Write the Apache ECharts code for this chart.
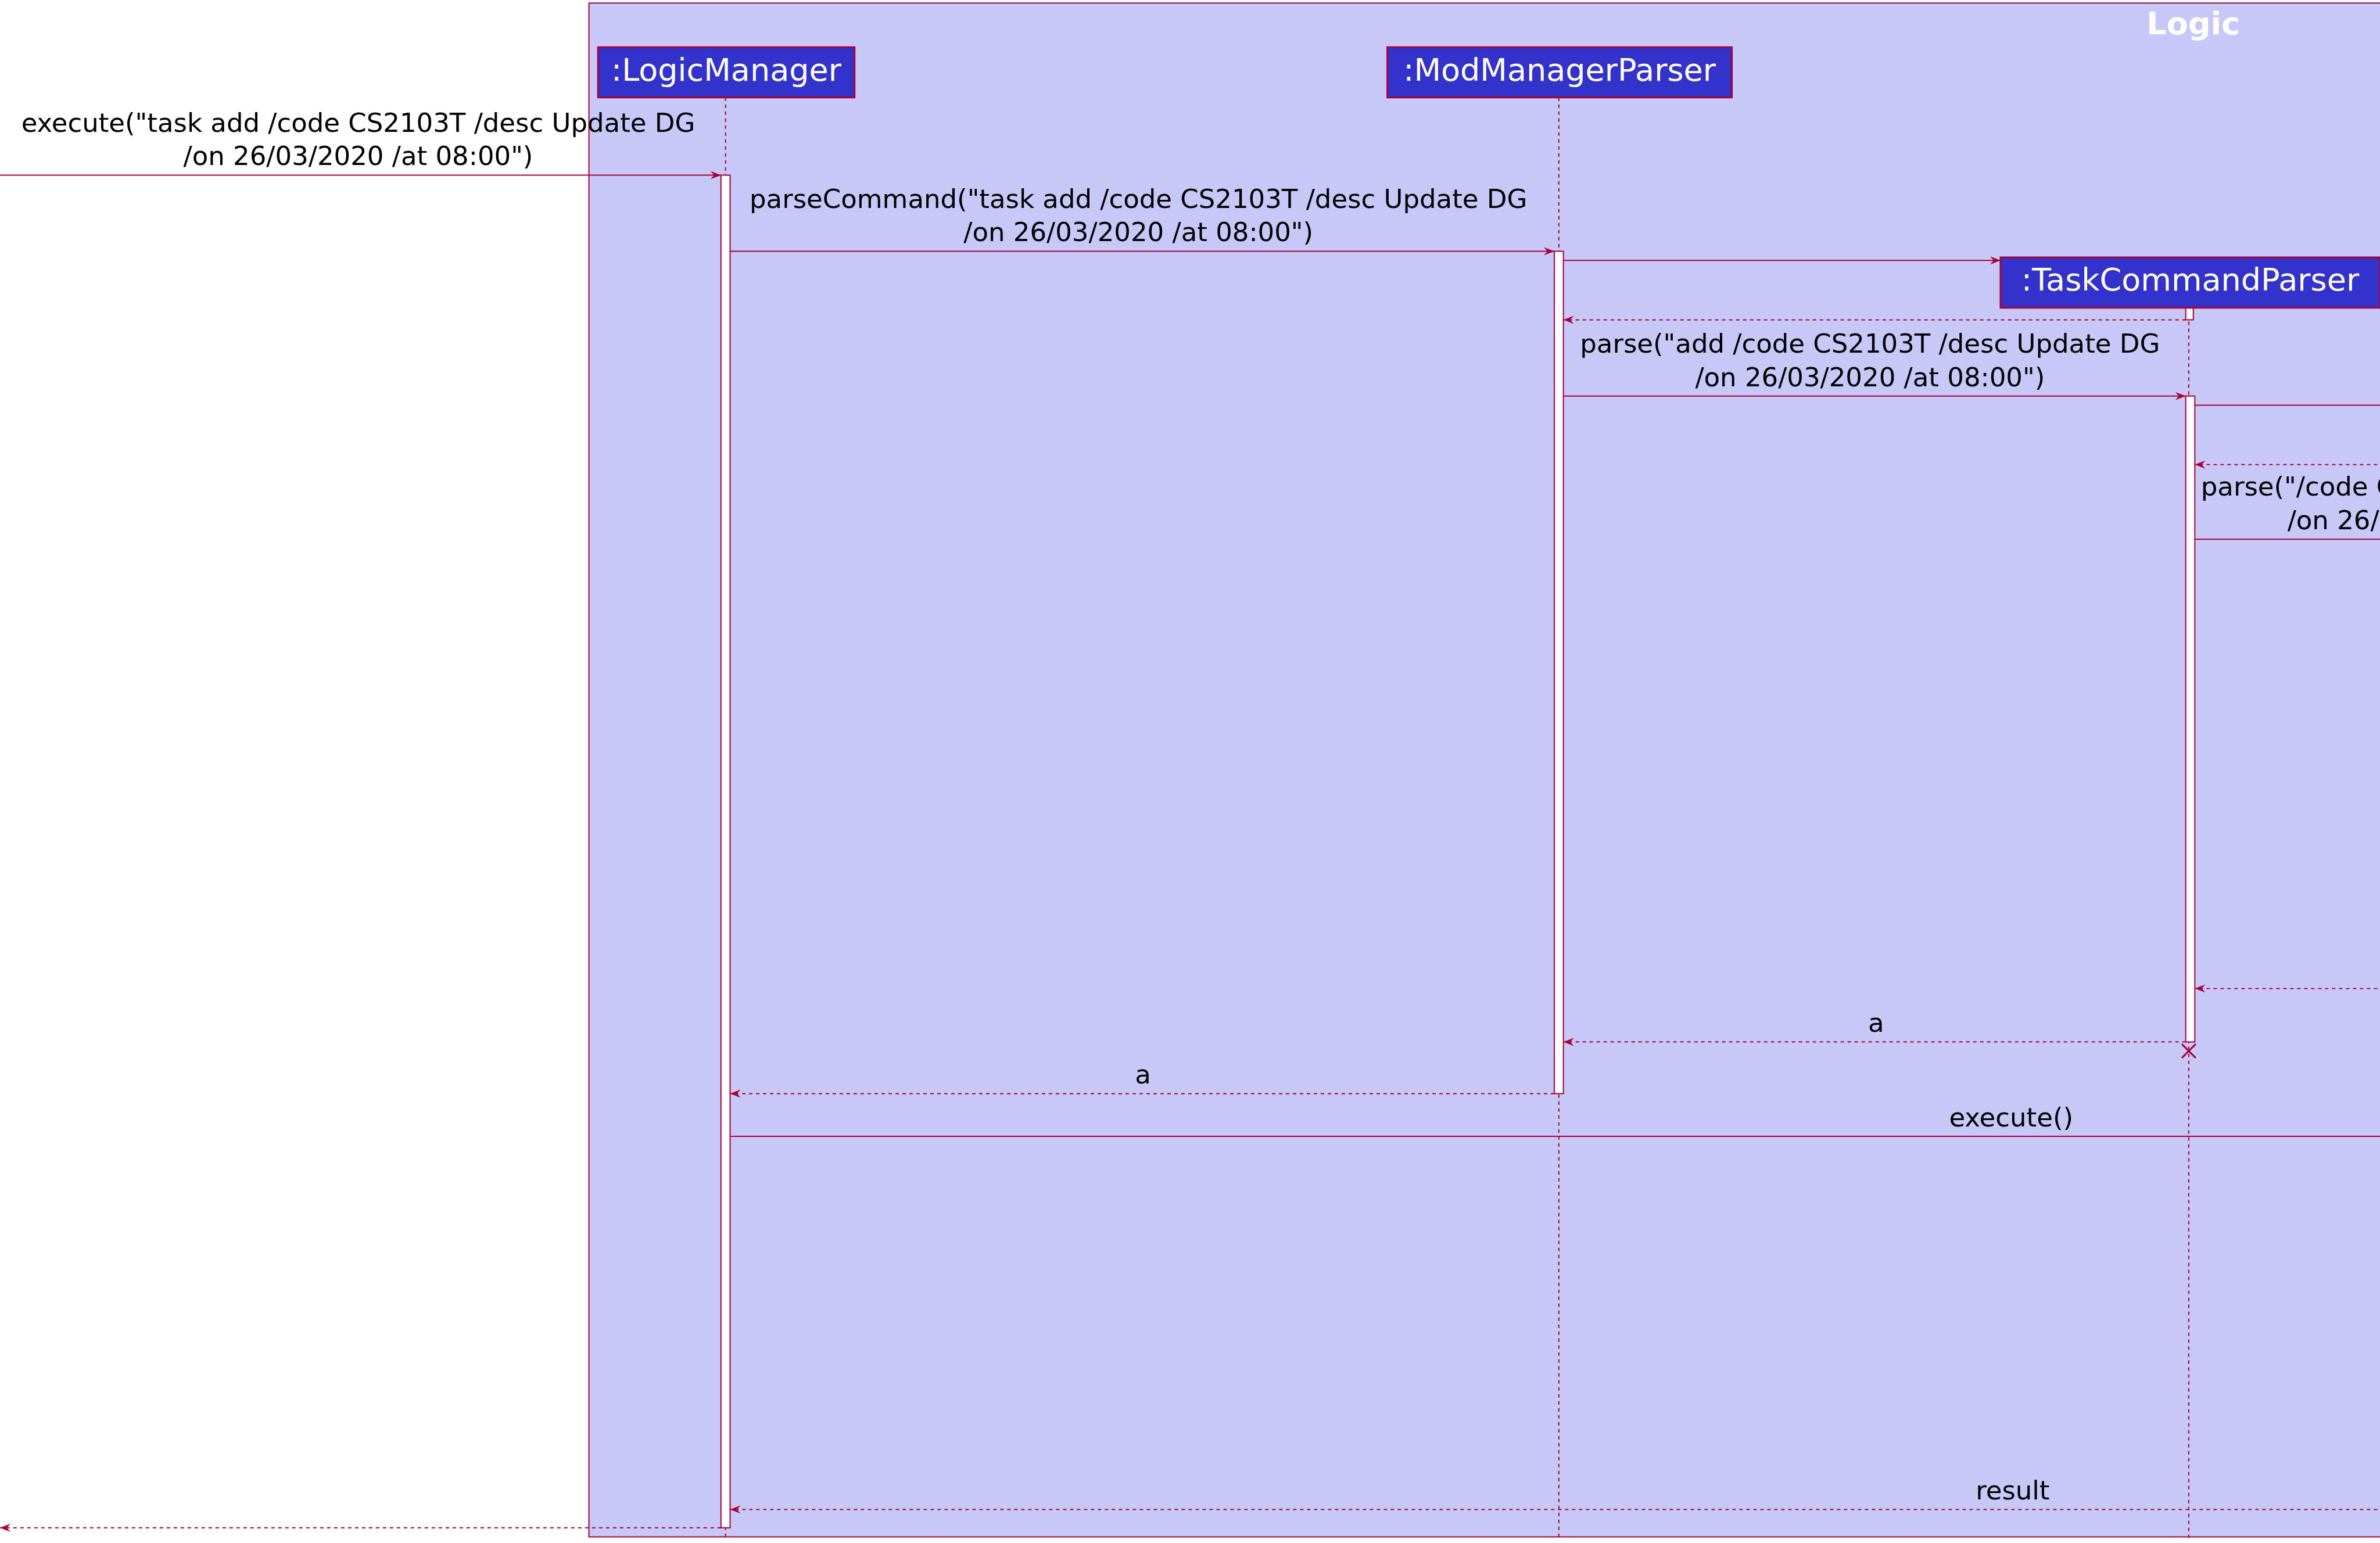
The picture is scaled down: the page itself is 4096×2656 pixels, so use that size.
<!DOCTYPE html>
<html>
<head>
<meta charset="utf-8">
<script src="https://cdn.jsdelivr.net/npm/echarts@6/dist/echarts.min.js"></script>
<style>html,body{margin:0;padding:0;background:#fff}#chart{width:4096px;height:2656px}</style>
</head>
<body>
<div id="chart"></div>
<script>
// diagram units: reference is 1568 x 1013
var participantNames = [':LogicManager', ':ModManagerParser', ':TaskCommandParser'];
var participantBoxes = [[394, 563, 31, 64], [914, 1141, 31, 64], [1318, 1568, 169, 202]];
var lifelineX = [478, 1027, 1442];
var lifelineTop = [64, 64, 202];
var activations = [[475, 481, 115, 1003], [1024, 1030, 165, 718], [1440, 1445, 202, 210], [1440, 1446, 260, 684]];
// [fromX, toX, y, dashed, line1, line2, labelX, align]
var messages = [
  [0, 475, 115, 0, 'execute("task add /code CS2103T /desc Update DG', '/on 26/03/2020 /at 08:00")', 236, 'center'],
  [481, 1024, 165, 0, 'parseCommand("task add /code CS2103T /desc Update DG', '/on 26/03/2020 /at 08:00")', 750, 'center'],
  [1030, 1318, 171, 0, '', '', 0, 'center'],
  [1440, 1030, 210, 1, '', '', 0, 'center'],
  [1030, 1440, 260, 0, 'parse("add /code CS2103T /desc Update DG', '/on 26/03/2020 /at 08:00")', 1232, 'center'],
  [1446, 1580, 266, 0, '', '', 0, 'center'],
  [1580, 1446, 305, 1, '', '', 0, 'center'],
  [1446, 1580, 354, 0, 'parse("/code CS2103T /desc Update DG', '/on 26/03/2020 /at 08:00")', 1450, 'left'],
  [1580, 1446, 649, 1, '', '', 0, 'center'],
  [1440, 1030, 684, 1, '', 'a', 1236, 'center'],
  [1024, 481, 718, 1, '', 'a', 753, 'center'],
  [481, 1580, 746, 0, '', 'execute()', 1325, 'center'],
  [1580, 481, 991, 1, '', 'result', 1326, 'center'],
  [475, 0, 1003, 1, '', '', 0, 'center']
];
var destroyPoint = [1442, 690];
var groupBox = [388, 2, 1580, 1009];
var groupTitle = 'Logic';

var RED = '#A80036';
var FONT = '"DejaVu Sans", sans-serif';
var chart = echarts.init(document.getElementById('chart'));

function groupItem(params, api) {
  var a = api.coord([groupBox[0], groupBox[1]]), b = api.coord([groupBox[2], groupBox[3]]);
  var t = api.coord([1445, 17]);
  return {type: 'group', children: [
    {type: 'rect', shape: {x: a[0], y: a[1], width: b[0] - a[0], height: b[1] - a[1]},
      style: {fill: '#C8C8F8', stroke: RED, lineWidth: 2}},
    {type: 'text', style: {text: groupTitle, x: t[0], y: t[1], fill: '#fff', font: 'bold 54px ' + FONT, align: 'center', verticalAlign: 'middle'}}
  ]};
}
function lifelineItem(params, api) {
  var i = params.dataIndex;
  var a = api.coord([lifelineX[i], lifelineTop[i]]), b = api.coord([lifelineX[i], 1010]);
  return {type: 'line', shape: {x1: a[0], y1: a[1], x2: b[0], y2: b[1]},
    style: {stroke: RED, lineWidth: 2, lineDash: [6, 6]}};
}
function activationItem(params, api) {
  var r = activations[params.dataIndex];
  var a = api.coord([r[0], r[2]]), b = api.coord([r[1], r[3]]);
  return {type: 'rect', shape: {x: a[0], y: a[1], width: b[0] - a[0], height: b[1] - a[1]},
    style: {fill: '#fff', stroke: RED, lineWidth: 2}};
}
function participantItem(params, api) {
  var r = participantBoxes[params.dataIndex];
  var a = api.coord([r[0], r[2]]), b = api.coord([r[1], r[3]]);
  return {type: 'group', children: [
    {type: 'rect', shape: {x: a[0], y: a[1], width: b[0] - a[0], height: b[1] - a[1]},
      style: {fill: '#3333CC', stroke: RED, lineWidth: 3}},
    {type: 'text', style: {text: participantNames[params.dataIndex], x: (a[0] + b[0]) / 2, y: (a[1] + b[1]) / 2,
      fill: '#fff', font: '54px ' + FONT, align: 'center', verticalAlign: 'middle'}}
  ]};
}
function messageItem(params, api) {
  var m = messages[params.dataIndex];
  var a = api.coord([m[0], m[2]]), b = api.coord([m[1], m[2]]);
  var dir = b[0] > a[0] ? 1 : -1;
  var kids = [
    {type: 'line', shape: {x1: a[0], y1: a[1], x2: b[0], y2: b[1]},
      style: {stroke: RED, lineWidth: 2, lineDash: m[3] ? [6, 6] : null}},
    {type: 'polygon', shape: {points: [[b[0], b[1]], [b[0] - dir * 18, b[1] - 7], [b[0] - dir * 12, b[1]], [b[0] - dir * 18, b[1] + 7]]},
      style: {fill: RED}}
  ];
  var p1 = api.coord([m[6], m[2] - 33]), p2 = api.coord([m[6], m[2] - 11]);
  var x2 = m[7] === 'left' && m[4] ? api.coord([1507, 0])[0] : p2[0];
  if (m[4]) kids.push({type: 'text', style: {text: m[4], x: p1[0], y: p1[1], fill: '#000', font: '45px ' + FONT, align: m[7], verticalAlign: 'middle'}});
  if (m[5]) kids.push({type: 'text', style: {text: m[5], x: x2, y: p2[1], fill: '#000', font: '45px ' + FONT, align: m[7], verticalAlign: 'middle'}});
  return {type: 'group', children: kids};
}
function destroyItem(params, api) {
  var c = api.coord(destroyPoint), s = 12;
  return {type: 'group', children: [
    {type: 'line', shape: {x1: c[0] - s, y1: c[1] - s, x2: c[0] + s, y2: c[1] + s}, style: {stroke: RED, lineWidth: 3}},
    {type: 'line', shape: {x1: c[0] - s, y1: c[1] + s, x2: c[0] + s, y2: c[1] - s}, style: {stroke: RED, lineWidth: 3}}
  ]};
}
function idx(arr) { return arr.map(function (d, i) { return [i, 0]; }); }

chart.setOption({
  animation: false,
  grid: {left: 0, right: 0, top: 0, bottom: 0},
  xAxis: {type: 'value', min: 0, max: 1568, show: false},
  yAxis: {type: 'value', min: 0, max: 1013, inverse: true, show: false},
  series: [
    {type: 'custom', renderItem: groupItem, data: [[0, 0]], silent: true},
    {type: 'custom', renderItem: lifelineItem, data: idx(lifelineX), silent: true},
    {type: 'custom', renderItem: messageItem, data: idx(messages), silent: true},
    {type: 'custom', renderItem: activationItem, data: idx(activations), silent: true},
    {type: 'custom', renderItem: participantItem, data: idx(participantNames), silent: true},
    {type: 'custom', renderItem: destroyItem, data: [[0, 0]], silent: true}
  ]
});
</script>
</body>
</html>
